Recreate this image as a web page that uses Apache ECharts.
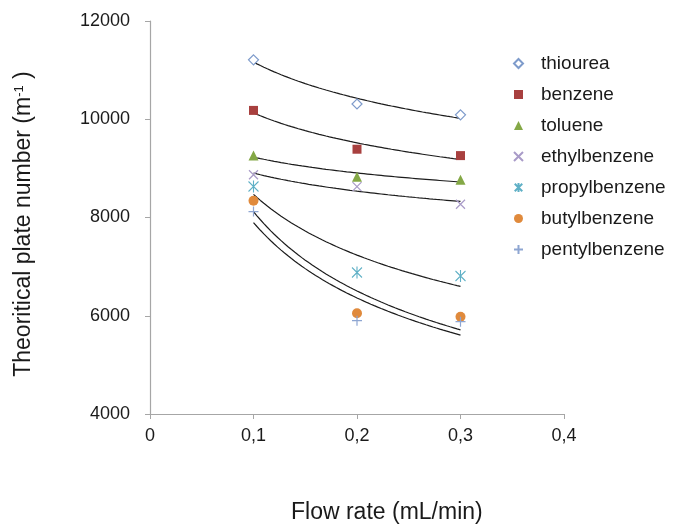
<!DOCTYPE html>
<html>
<head>
<meta charset="utf-8">
<script src="https://cdn.jsdelivr.net/npm/echarts@6/dist/echarts.min.js"></script>
<style>html,body{margin:0;padding:0;background:#fff}#c{width:675px;height:527px}</style>
</head>
<body>
<div id="c"></div>
<script>
const flowRates = [0.1, 0.2, 0.3];
const thiourea = [11210, 10310, 10090];
const benzene = [10180, 9390, 9260];
const toluene = [9260, 8830, 8770];
const ethylbenzene = [8870, 8630, 8270];
const propylbenzene = [8630, 6880, 6810];
const butylbenzene = [8340, 6050, 5980];
const pentylbenzene = [8120, 5900, 5880];
const xTicks = [0, 0.1, 0.2, 0.3, 0.4];
const yTicks = [4000, 6000, 8000, 10000, 12000];

const FONT = '"Liberation Sans", Arial, sans-serif';
const defs = [
  {name: 'thiourea', data: thiourea, symbol: 'diamond', size: 10, fill: '#ffffff', stroke: '#7E9BCB', bw: 1.2},
  {name: 'benzene', data: benzene, symbol: 'rect', size: 9, fill: '#A8403F', stroke: '#A8403F', bw: 0},
  {name: 'toluene', data: toluene, symbol: 'triangle', size: 10, fill: '#84A846', stroke: '#84A846', bw: 0},
  {name: 'ethylbenzene', data: ethylbenzene, symbol: 'path://M0,0L10,10M10,0L0,10', size: 9, fill: '#A99BC8', stroke: '#A99BC8', bw: 1.2},
  {name: 'propylbenzene', data: propylbenzene, symbol: 'path://M0,1L10,11M10,1L0,11M5,0L5,12', size: [10, 12], fill: '#5FB0C6', stroke: '#5FB0C6', bw: 1.2},
  {name: 'butylbenzene', data: butylbenzene, symbol: 'circle', size: 10, fill: '#E08A3C', stroke: '#E08A3C', bw: 0},
  {name: 'pentylbenzene', data: pentylbenzene, symbol: 'path://M0,5L10,5M5,0L5,10', size: 10, fill: '#8EA6D2', stroke: '#8EA6D2', bw: 1.2}
];

// power-law trend line (least squares on log-log), as in the source chart
function powerFit(xs, ys) {
  const lx = xs.map(Math.log), ly = ys.map(Math.log);
  const n = xs.length;
  const mx = lx.reduce((a, b) => a + b, 0) / n, my = ly.reduce((a, b) => a + b, 0) / n;
  let sxy = 0, sxx = 0;
  for (let i = 0; i < n; i++) { sxy += (lx[i] - mx) * (ly[i] - my); sxx += (lx[i] - mx) ** 2; }
  const b = sxy / sxx, a = Math.exp(my - b * mx);
  const pts = [];
  const x0 = xs[0], x1 = xs[n - 1], steps = 60;
  for (let i = 0; i <= steps; i++) { const x = x0 + (x1 - x0) * i / steps; pts.push([x, a * Math.pow(x, b)]); }
  return pts;
}

const series = [];
defs.forEach(d => {
  series.push({
    name: d.name + ' trend', type: 'line', data: powerFit(flowRates, d.data),
    showSymbol: false, symbol: 'none', silent: true, z: 1,
    lineStyle: {color: '#1c1c1c', width: 1.2}
  });
});
defs.forEach(d => {
  series.push({
    name: d.name, type: 'scatter', z: 3,
    data: flowRates.map((x, i) => [x, d.data[i]]),
    symbol: d.symbol, symbolSize: d.size,
    itemStyle: {color: d.fill, borderColor: d.stroke, borderWidth: d.bw, opacity: 1}
  });
});

const chart = echarts.init(document.getElementById('c'), null, {renderer: 'canvas'});
chart.setOption({
  animation: false,
  backgroundColor: '#ffffff',
  grid: {left: 150, right: 111, top: 21, bottom: 113, containLabel: false},
  xAxis: {
    type: 'value', min: xTicks[0], max: xTicks[xTicks.length - 1], interval: 0.1,
    splitLine: {show: false},
    axisLine: {show: true, lineStyle: {color: '#A6A6A6', width: 1.2}},
    axisTick: {show: true, length: 5, lineStyle: {color: '#A6A6A6'}},
    axisLabel: {color: '#1a1a1a', fontSize: 18, fontFamily: FONT, margin: 13,
      formatter: v => v === 0 ? '0' : v.toFixed(1).replace('.', ',')}
  },
  yAxis: {
    type: 'value', min: yTicks[0], max: yTicks[yTicks.length - 1], interval: 2000,
    splitLine: {show: false},
    axisLine: {show: true, lineStyle: {color: '#A6A6A6', width: 1.2}},
    axisTick: {show: true, length: 5, lineStyle: {color: '#A6A6A6'}},
    axisLabel: {color: '#1a1a1a', fontSize: 18, fontFamily: FONT, margin: 20,
      formatter: v => String(Math.round(v))}
  },
  legend: {
    data: defs.map(d => d.name),
    orient: 'vertical', left: 508, top: 49,
    itemWidth: 9, itemHeight: 9, itemGap: 12, symbolKeepAspect: true,
    textStyle: {fontSize: 19, fontFamily: FONT, color: '#1a1a1a', padding: [0, 0, 0, 13]},
    selectedMode: false
  },
  graphic: [
    {type: 'text', left: 291, top: 501, style: {text: 'Flow rate (mL/min)', font: '23px ' + FONT, fill: '#1a1a1a'}},
    {type: 'text', x: 24, y: 224, rotation: Math.PI / 2,
      style: {
        text: 'Theoritical plate number (m{sup|-1} )',
        font: '23px ' + FONT, fill: '#1a1a1a', align: 'center', verticalAlign: 'middle',
        rich: {sup: {fontSize: 13, fontFamily: FONT, verticalAlign: 'top', fill: '#1a1a1a'}}
      }}
  ],
  series: series
});
</script>
</body>
</html>
